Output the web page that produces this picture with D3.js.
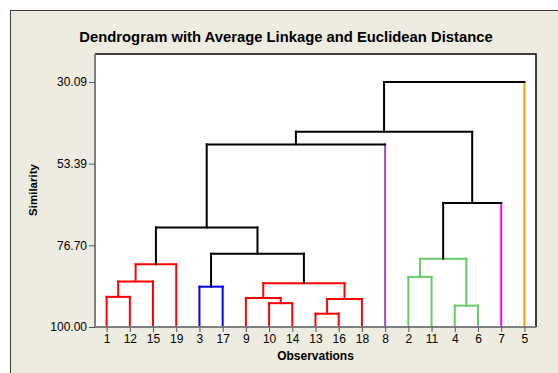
<!DOCTYPE html>
<html>
<head>
<meta charset="utf-8">
<script src="https://cdn.jsdelivr.net/npm/d3@7"></script>
<style>
  body { margin: 0; background: #fff; }
  svg { display: block; }
  text { font-family: "Liberation Sans", Arial, sans-serif; fill: #000; }
</style>
</head>
<body>
<script>
// observations in dendrogram order (x axis)
var observations = ["1", "12", "15", "19", "3", "17", "9", "10", "14", "13", "16", "18", "8", "2", "11", "4", "6", "7", "5"];

// y axis tick values (similarity)
var yTicks = [100.00, 76.70, 53.39, 30.09];

// amalgamation steps: [left, right, similarity]; "mN" = result of step N
var steps = [
  ["13", "16", 96.2],   // m1
  ["4", "6", 93.9],     // m2
  ["10", "14", 93.2],   // m3
  ["m1", "18", 92.0],   // m4
  ["9", "m3", 91.7],    // m5
  ["1", "12", 91.4],    // m6
  ["3", "17", 88.5],    // m7
  ["m5", "m4", 87.5],   // m8
  ["m6", "15", 87.0],   // m9
  ["2", "11", 85.7],    // m10
  ["m9", "19", 82.1],   // m11
  ["m10", "m2", 80.5],  // m12
  ["m7", "m8", 79.1],   // m13
  ["m11", "m13", 71.6], // m14
  ["m12", "7", 64.6],   // m15
  ["m14", "8", 47.9],   // m16
  ["m16", "m15", 44.3], // m17
  ["m17", "5", 30.09]   // m18
];

// final partition and colours
var clusterMembers = [
  ["1", "12", "15", "19"],
  ["3", "17"],
  ["9", "10", "14", "13", "16", "18"],
  ["8"],
  ["2", "11", "4", "6"],
  ["7"],
  ["5"]
];
var clusterColors = ["#ff0000", "#0000ff", "#ff0000", "#a044dc", "#66cc66", "#ff00ff", "#ff9900"];

var width = 558, height = 373;
var plot = {left: 95, right: 536, top: 54, bottom: 327};

var svg = d3.select("body").append("svg")
  .attr("width", width)
  .attr("height", height);

// outer frame
svg.append("rect")
  .attr("x", 10.5).attr("y", 10.5)
  .attr("width", 570).attr("height", 400)
  .attr("fill", "#eeebe1")
  .attr("stroke", "#3c3c3c")
  .attr("stroke-width", 1);

// plot area
svg.append("rect")
  .attr("x", plot.left).attr("y", plot.top)
  .attr("width", plot.right - plot.left).attr("height", plot.bottom - plot.top)
  .attr("fill", "#fff");
svg.append("path")
  .attr("d", "M" + plot.left + "," + plot.top + "H" + plot.right + "V" + plot.bottom)
  .attr("fill", "none")
  .attr("stroke", "#000")
  .attr("stroke-width", 1.5);

var x = d3.scalePoint()
  .domain(observations)
  .range([plot.left, plot.right])
  .padding(0.5);

var y = d3.scaleLinear()
  .domain([100, 30.09])
  .range([plot.bottom, 82]);

// build tree nodes
var clusterOf = {};
clusterMembers.forEach(function(m, i) { m.forEach(function(id) { clusterOf[id] = i; }); });

var nodes = {};
observations.forEach(function(id) {
  nodes[id] = {id: id, leaf: true, x: x(id), h: 100, cluster: clusterOf[id]};
});
var merges = steps.map(function(s, i) {
  var a = nodes[s[0]], b = nodes[s[1]];
  var n = {
    id: "m" + (i + 1), leaf: false, a: a, b: b, h: s[2],
    x: (a.x + b.x) / 2,
    cluster: a.cluster === b.cluster ? a.cluster : -1
  };
  nodes[n.id] = n;
  return n;
});

function colorOf(n) { return n.cluster >= 0 ? clusterColors[n.cluster] : "#000"; }

var segs = [];
merges.forEach(function(n) {
  var c = colorOf(n);
  [n.a, n.b].forEach(function(ch) {
    segs.push({x1: ch.x, x2: ch.x, y1: y(ch.h), y2: y(n.h), color: ch.leaf ? colorOf(ch) : c});
  });
  segs.push({x1: n.a.x, x2: n.b.x, y1: y(n.h), y2: y(n.h), color: c});
});

svg.append("g")
  .attr("class", "dendro")
  .selectAll("line")
  .data(segs)
  .enter().append("line")
  .attr("x1", function(d) { return d.x1; })
  .attr("x2", function(d) { return d.x2; })
  .attr("y1", function(d) { return d.y1; })
  .attr("y2", function(d) { return d.y2; })
  .attr("stroke", function(d) { return d.color; })
  .attr("stroke-width", 2)
  .attr("stroke-linecap", "square");

// axes
var yAxis = d3.axisLeft(y)
  .tickValues(yTicks)
  .tickFormat(d3.format(".2f"))
  .tickSize(6)
  .tickPadding(2);

var xAxis = d3.axisBottom(x)
  .tickSize(5)
  .tickPadding(2);

var gy = svg.append("g")
  .attr("class", "y axis")
  .attr("transform", "translate(" + plot.left + ",0)")
  .call(yAxis);
gy.select(".domain").attr("d", "M0," + plot.top + "V" + plot.bottom);

var gx = svg.append("g")
  .attr("class", "x axis")
  .attr("transform", "translate(0," + plot.bottom + ")")
  .call(xAxis);
gx.select(".domain").attr("d", "M" + plot.left + ",0H" + plot.right);

svg.selectAll(".axis .domain")
  .attr("stroke", "#808080")
  .attr("stroke-width", 2);
svg.selectAll(".axis .tick line")
  .attr("stroke", "#555");
svg.selectAll(".axis text")
  .style("font-family", "Liberation Sans, Arial, sans-serif")
  .style("font-size", "12px")
  .attr("fill", "#000");

// titles
svg.append("text")
  .attr("x", 286)
  .attr("y", 42)
  .attr("text-anchor", "middle")
  .style("font-size", "14.8px")
  .style("font-weight", "bold")
  .text("Dendrogram with Average Linkage and Euclidean Distance");

svg.append("text")
  .attr("x", (plot.left + plot.right) / 2)
  .attr("y", 360)
  .attr("text-anchor", "middle")
  .style("font-size", "12px")
  .style("font-weight", "bold")
  .text("Observations");

svg.append("text")
  .attr("transform", "translate(37,190) rotate(-90)")
  .attr("text-anchor", "middle")
  .style("font-size", "11.5px")
  .style("font-weight", "bold")
  .text("Similarity");
</script>
</body>
</html>
